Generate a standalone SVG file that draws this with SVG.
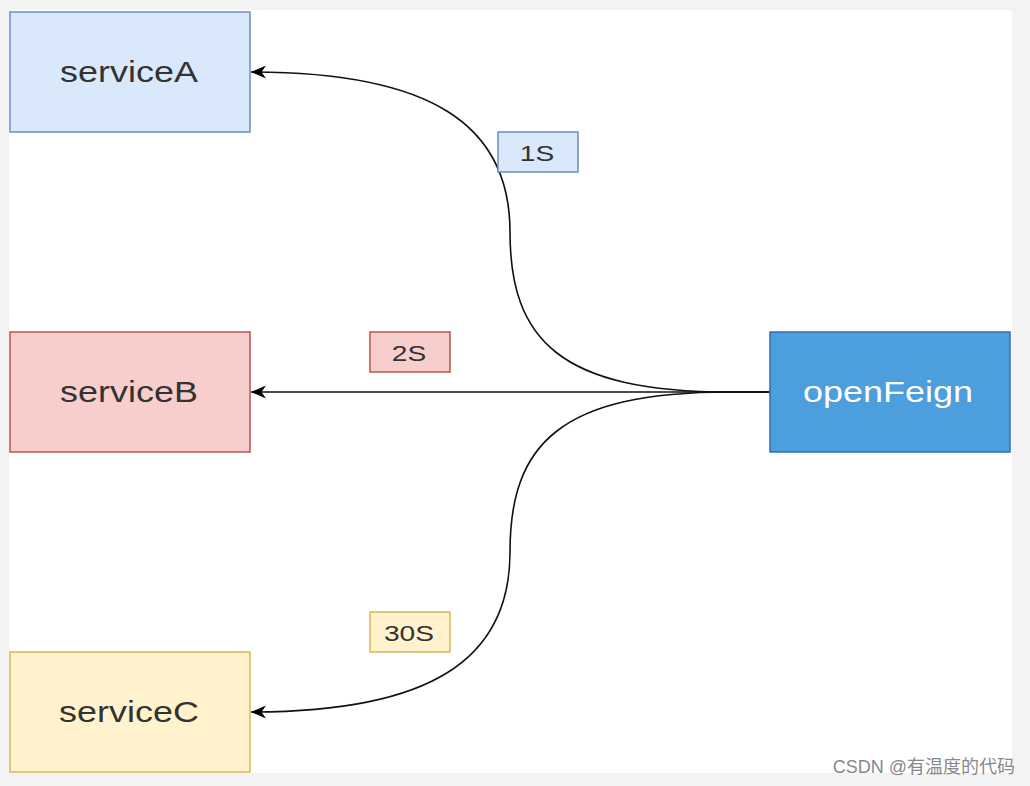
<svg xmlns="http://www.w3.org/2000/svg" width="1030" height="786" viewBox="0 0 1030 786">
<style>
.box{stroke-width:1.5}
.t{font-family:"Liberation Sans",Arial,sans-serif;text-anchor:middle;dominant-baseline:central}
.big{font-size:29px;fill:#333}
.lbl{font-size:22px;fill:#333}
.edge{fill:none;stroke:#111;stroke-width:1.6}
</style>
<defs>
<marker id="arr" viewBox="0 0 16 16" refX="15" refY="8" markerWidth="16" markerHeight="16" markerUnits="userSpaceOnUse" orient="auto">
<path d="M0 1.5 L15 8 L0 14.5 L4.5 8 Z" fill="#000"/>
</marker>
</defs>
<rect x="0" y="0" width="1030" height="786" fill="#f3f3f3"/>
<rect x="9" y="10" width="1003" height="763" rx="4" fill="#fff"/>
<g id="connectors">
<path class="edge" d="M770 392 H730 C560 392 510 340 510 232 C510 124 430 72 251 72" marker-end="url(#arr)"/>
<path class="edge" d="M770 392 H251" marker-end="url(#arr)"/>
<path class="edge" d="M770 392 H730 C560 392 510 444 510 552 C510 660 430 712 251 712" marker-end="url(#arr)"/>
</g>
<g id="serviceA"><rect class="box" x="10" y="12" width="240" height="120" fill="#dae8fc" stroke="#6c8ebf"/><text class="t big" transform="translate(129 72) scale(1.24 1)">serviceA</text></g>
<g id="serviceB"><rect class="box" x="10" y="332" width="240" height="120" fill="#f8cecc" stroke="#b85450"/><text class="t big" transform="translate(129 392) scale(1.24 1)">serviceB</text></g>
<g id="serviceC"><rect class="box" x="10" y="652" width="240" height="120" fill="#fff2cc" stroke="#d6b656"/><text class="t big" transform="translate(129 712) scale(1.24 1)">serviceC</text></g>
<g id="openFeign"><rect class="box" x="770" y="332" width="240" height="120" fill="#4d9edc" stroke="#2d6fb2"/><text class="t big" transform="translate(888 392) scale(1.24 1)" style="fill:#fff">openFeign</text></g>
<g id="label1S"><rect class="box" x="498" y="132" width="80" height="40" fill="#dae8fc" stroke="#6c8ebf"/><text class="t lbl" transform="translate(537 153) scale(1.28 1)">1S</text></g>
<g id="label2S"><rect class="box" x="370" y="332" width="80" height="40" fill="#f8cecc" stroke="#b85450"/><text class="t lbl" transform="translate(409 353) scale(1.28 1)">2S</text></g>
<g id="label30S"><rect class="box" x="370" y="612" width="80" height="40" fill="#fff2cc" stroke="#d6b656"/><text class="t lbl" transform="translate(409 633) scale(1.28 1)">30S</text></g>
<text x="1015" y="767" font-family="'Liberation Sans','Noto Sans CJK SC',sans-serif" font-size="18" fill="#888" text-anchor="end" dominant-baseline="central">CSDN @有温度的代码</text>
</svg>
